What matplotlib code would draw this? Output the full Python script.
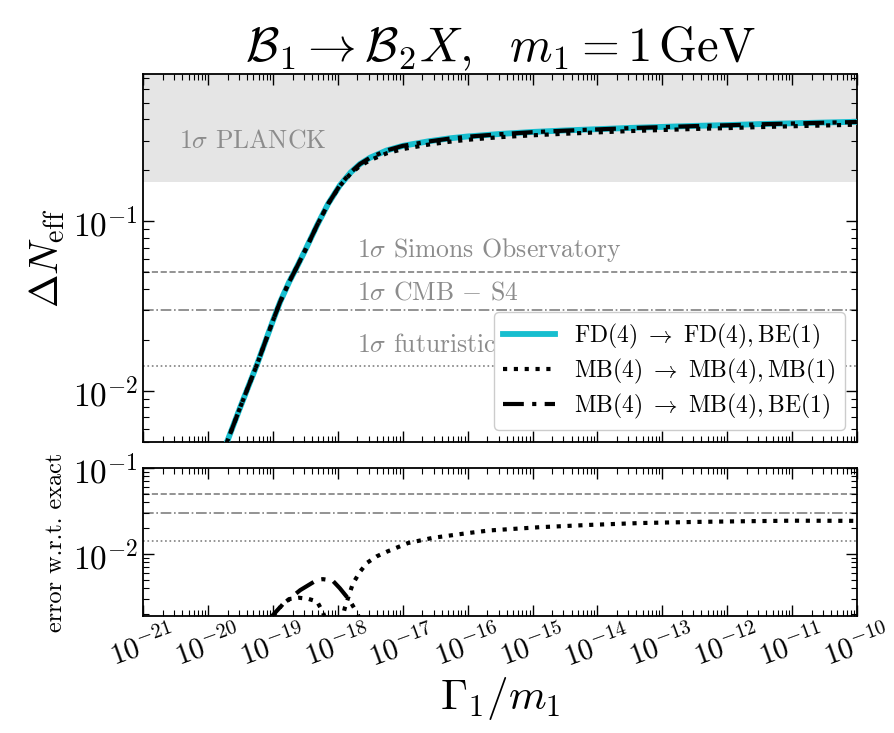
import numpy as np
import matplotlib
matplotlib.use("Agg")
import matplotlib.pyplot as plt
from matplotlib.ticker import LogLocator, NullFormatter

plt.rcParams['mathtext.fontset'] = 'cm'
plt.rcParams['font.family'] = 'serif'
plt.rcParams['font.serif'] = ['cmr10']
plt.rcParams['axes.unicode_minus'] = False
plt.rcParams['axes.formatter.use_mathtext'] = True

# log10(Gamma_1/m_1) grid for the Delta N_eff curves
log_gamma = [-19.9, -19.7, -19.5, -19.25, -19.0, -18.89, -18.75, -18.63, -18.5,
             -18.32, -18.15, -17.97, -17.8, -17.66, -17.5, -17.25, -17.0, -16.6,
             -16.28, -16.0, -15.5, -15.0, -14.5, -14.0, -13.5, -13.0, -12.5,
             -12.0, -11.5, -11.0, -10.5, -10.0]
dneff_fd = [0.0033, 0.0051, 0.0081, 0.0142, 0.026, 0.0335, 0.044, 0.054, 0.068,
            0.095, 0.127, 0.163, 0.195, 0.218, 0.238, 0.262, 0.279, 0.297,
            0.309, 0.317, 0.328, 0.337, 0.344, 0.350, 0.356, 0.361, 0.366,
            0.370, 0.375, 0.379, 0.383, 0.387]
dneff_mbmb = [0.0033, 0.0051, 0.0081, 0.0142, 0.026, 0.0335, 0.044, 0.054, 0.068,
              0.095, 0.127, 0.162, 0.192, 0.212, 0.230, 0.252, 0.267, 0.284,
              0.295, 0.303, 0.314, 0.322, 0.329, 0.335, 0.341, 0.346, 0.351,
              0.355, 0.360, 0.364, 0.368, 0.372]
dneff_mbbe = [0.0033, 0.0051, 0.0081, 0.0142, 0.026, 0.0335, 0.044, 0.054, 0.068,
              0.095, 0.127, 0.163, 0.195, 0.218, 0.238, 0.262, 0.279, 0.296,
              0.308, 0.316, 0.327, 0.336, 0.343, 0.349, 0.355, 0.360, 0.365,
              0.369, 0.374, 0.378, 0.382, 0.386]

# relative errors w.r.t. exact (lower panel)
err_mbmb_logx = [-19.0, -18.85, -18.74, -18.6, -18.45, -18.32, -18.23, -18.12,
                 -18.05, -17.97, -17.89, -17.77, -17.66, -17.55, -17.4, -17.25,
                 -16.92, -16.54, -16.0, -15.66, -14.89, -14.12, -13.35, -12.5,
                 -11.82, -11.0, -10.0]
err_mbmb = [0.0019, 0.0026, 0.0030, 0.0031, 0.0030, 0.0028, 0.0021, 0.0012,
            0.0008, 0.0014, 0.0024, 0.0045, 0.0062, 0.0079, 0.0094, 0.0106,
            0.0134, 0.0154, 0.0175, 0.0188, 0.0205, 0.0218, 0.0229, 0.0236,
            0.0240, 0.0244, 0.0243]
err_mbbe_logx = [-19.1, -19.0, -18.85, -18.58, -18.32, -18.23, -18.08, -17.97,
                 -17.82, -17.71, -17.6]
err_mbbe = [0.0016, 0.00195, 0.0026, 0.0038, 0.0050, 0.0051, 0.0049, 0.0040,
            0.0029, 0.0021, 0.0014]

# sensitivity lines
sens_values = [0.05, 0.03, 0.014]
sens_styles = ['--', '-.', ':']
sens_labels = [r'$\mathbf{1}\sigma$ Simons Observatory', r'$\mathbf{1}\sigma$ CMB $-$ S4',
               r'$\mathbf{1}\sigma$ futuristic']
sens_label_y = [0.068, 0.038, 0.0186]
planck_low = 0.17

xmin, xmax = 1e-21, 1e-10
gray = '#8c8c8c'

fig = plt.figure(figsize=(8.95, 7.33), dpi=100)
ax = fig.add_axes([0.160, 0.397, 0.7975, 0.502])
ax2 = fig.add_axes([0.160, 0.1596, 0.7975, 0.2019])

x_top = 10.0 ** np.array(log_gamma)

ax.axhspan(planck_low, 10, color='#e5e5e5', lw=0, zorder=0)
ax.text(10 ** -20.45, 0.30, r'$\mathbf{1}\sigma$ PLANCK', color=gray, fontsize=18.5,
        va='center', ha='left')
for v, ls, lab, ly in zip(sens_values, sens_styles, sens_labels, sens_label_y):
    ax.axhline(v, color='gray', ls=ls, lw=1.2, zorder=1)
    ax2.axhline(v, color='gray', ls=ls, lw=1.2, zorder=1)
    ax.text(10 ** -17.7, ly, lab, color=gray, fontsize=18.5, va='center', ha='left')

ax.plot(x_top, dneff_fd, color='#17becf', lw=4.2,
        label=r'$\mathrm{FD}(4)\ \to\ \mathrm{FD}(4),\mathrm{BE}(1)$', zorder=3)
ax.plot(x_top, dneff_mbmb, color='k', lw=3, ls=(0, (1, 1.6)),
        label=r'$\mathrm{MB}(4)\ \to\ \mathrm{MB}(4),\mathrm{MB}(1)$', zorder=4)
ax.plot(x_top, dneff_mbbe, color='k', lw=3, ls=(0, (5, 2, 1, 2)),
        label=r'$\mathrm{MB}(4)\ \to\ \mathrm{MB}(4),\mathrm{BE}(1)$', zorder=5)

ax2.plot(10.0 ** np.array(err_mbmb_logx), err_mbmb, color='k', lw=3, ls=(0, (1, 1.6)))
ax2.plot(10.0 ** np.array(err_mbbe_logx), err_mbbe, color='k', lw=3, ls=(0, (5, 2, 1, 2)))

ax.set_xscale('log')
ax.set_yscale('log')
ax.set_xlim(xmin, xmax)
ax.set_ylim(5e-3, 0.74)
ax2.set_xscale('log')
ax2.set_yscale('log')
ax2.set_xlim(xmin, xmax)
ax2.set_ylim(1.9e-3, 0.1)

for a in (ax, ax2):
    a.xaxis.set_major_locator(LogLocator(base=10, numticks=20))
    a.xaxis.set_minor_locator(LogLocator(base=10, subs=np.arange(2, 10), numticks=20))
    a.yaxis.set_minor_locator(LogLocator(base=10, subs=np.arange(2, 10), numticks=20))
    a.yaxis.set_minor_formatter(NullFormatter())
    a.tick_params(which='both', direction='in', top=True, right=True, labelsize=24)
    a.tick_params(which='major', length=8, width=1)
    a.tick_params(which='minor', length=4, width=0.8)
    for s in a.spines.values():
        s.set_linewidth(1.3)

ax.set_xticklabels([])
ax.xaxis.set_minor_formatter(NullFormatter())
ax2.xaxis.set_minor_formatter(NullFormatter())
ax2.tick_params(axis='x', labelsize=21, labelrotation=20)

ax.set_ylabel(r'$\Delta N_{\mathrm{eff}}$', fontsize=29)
ax2.set_ylabel('error w.r.t. exact', fontsize=17.5)
ax2.set_xlabel(r'$\Gamma_1/m_1$', fontsize=31, labelpad=2)
ax.set_title(r'$\mathcal{B}_1\to\mathcal{B}_2X,\ \ m_1=1\,\mathrm{GeV}$', fontsize=35, pad=9)

leg = ax.legend(loc='lower right', fontsize=17, handlelength=2.2, framealpha=1,
                edgecolor='#cccccc', borderpad=0.4, labelspacing=0.25,
                bbox_to_anchor=(1.0, 0.0))

fig.savefig('out.png', dpi=100)
